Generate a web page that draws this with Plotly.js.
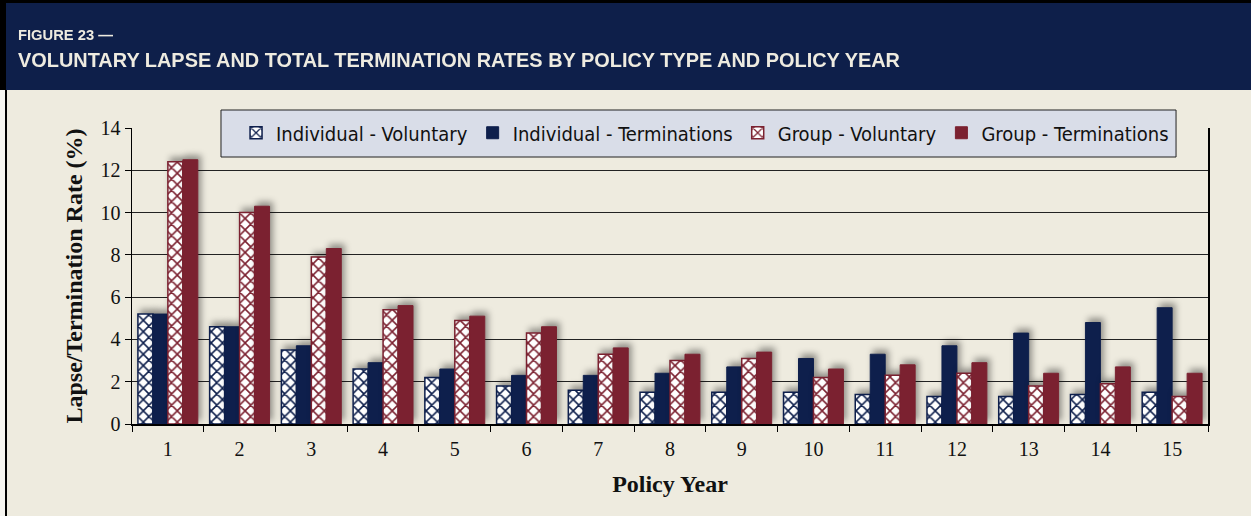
<!DOCTYPE html>
<html><head><meta charset="utf-8">
<script src="https://cdn.plot.ly/plotly-3.0.1.min.js"></script>
<style>
html,body{margin:0;padding:0;width:1251px;height:516px;overflow:hidden;background:#eeebdf;}
#wrap{position:relative;width:1251px;height:516px;}
#chart{position:absolute;left:0;top:0;width:1251px;height:516px;}
#header{position:absolute;left:0;top:0;width:1251px;height:90px;background:#0e1f4a;border-top:3px solid #000;border-left:6px solid #000;box-sizing:border-box;font-family:"Liberation Sans",Arial,sans-serif;font-weight:bold;color:#eeebe0;}
#header div{position:absolute;left:12px;white-space:nowrap;line-height:1;transform-origin:0 0;}
#l1{top:24px;font-size:15px;}
#l2{top:47px;font-size:20px;}
#lborder{position:absolute;left:5px;top:90px;width:2px;height:426px;background:#000;}
#lstrip{position:absolute;left:0;top:90px;width:5px;height:426px;background:#f6f5f0;}
.bars .point path{filter:drop-shadow(3px -4px 3px rgba(0,0,0,0.38));}
</style></head>
<body>
<div id="wrap">
<div id="chart"></div>
<div id="header"><div id="l1">FIGURE 23 —</div><div id="l2">VOLUNTARY LAPSE AND TOTAL TERMINATION RATES BY POLICY TYPE AND POLICY YEAR</div></div>
<div id="lstrip"></div><div id="lborder"></div>
</div>
<script>
const years = ['1','2','3','4','5','6','7','8','9','10','11','12','13','14','15'];
const indVol  = [5.2,4.6,3.5,2.6,2.2,1.8,1.6,1.5,1.5,1.5,1.4,1.3,1.3,1.4,1.5];
const indTerm = [5.2,4.6,3.7,2.9,2.6,2.3,2.3,2.4,2.7,3.1,3.3,3.7,4.3,4.8,5.5];
const grpVol  = [12.4,10.0,7.9,5.4,4.9,4.3,3.3,3.0,3.1,2.2,2.3,2.4,1.8,1.9,1.3];
const grpTerm = [12.5,10.3,8.3,5.6,5.1,4.6,3.6,3.3,3.4,2.6,2.8,2.9,2.4,2.7,2.4];
const seriesNames = ['Individual - Voluntary','Individual - Terminations','Group - Voluntary','Group - Terminations'];

// fit header lines to the reference's widths
[['l1',95],['l2',882]].forEach(([id,w])=>{
  const el=document.getElementById(id); const s=w/el.getBoundingClientRect().width;
  el.style.transform='scaleX('+s+')';
});

const NAVY = '#0e1f4c', MAROON = '#7b2130';
const serif = 'Liberation Serif, Times New Roman, serif';
const narrow = 'DejaVu Sans Condensed, Liberation Sans Narrow, Arial Narrow, sans-serif';

function patBar(name, y, col){
  return {type:'bar', name:name, x:years, y:y,
    marker:{color:'#ffffff', line:{color:col, width:1.5},
      pattern:{shape:'x', fgcolor:col, bgcolor:'#ffffff', size:8, solidity:0.35, fillmode:'replace'}}};
}
function solidBar(name, y, col){
  return {type:'bar', name:name, x:years, y:y, marker:{color:col, line:{color:col, width:1}}};
}
const data = [
  patBar(seriesNames[0], indVol, NAVY),
  solidBar(seriesNames[1], indTerm, NAVY),
  patBar(seriesNames[2], grpVol, MAROON),
  solidBar(seriesNames[3], grpTerm, MAROON)
];
const layout = {
  width:1251, height:516,
  paper_bgcolor:'#eeebdf', plot_bgcolor:'#eeebdf',
  margin:{l:132, r:43, t:128, b:92},
  barmode:'group', bargap:0.165, bargroupgap:0,
  showlegend:true,
  legend:{orientation:'h', x:0.0967, xanchor:'left', y:0.984, yanchor:'middle',
    bgcolor:'rgba(0,0,0,0)', borderwidth:0,
    font:{family:narrow, size:20, color:'#111'}, traceorder:'normal'},
  shapes:[{type:'rect', xref:'paper', yref:'paper', x0:0.0827, x1:0.9703, y0:0.902, y1:1.0608,
    fillcolor:'#d9dde8', line:{color:'#222', width:1}, layer:'above'}],
  xaxis:{type:'category', tickson:'boundaries', ticks:'outside', ticklen:6, tickcolor:'#000',
    showline:true, linecolor:'#000', linewidth:1.5, showgrid:false, ticklabelstandoff:6,
    tickfont:{family:serif, size:20, color:'#111'},
    title:{text:'<b>Policy Year</b>', font:{family:serif, size:24, color:'#111'}, standoff:16}},
  yaxis:{range:[0,14], dtick:2, ticks:'outside', ticklen:6, tickcolor:'#000',
    showline:true, linecolor:'#000', linewidth:1.5, mirror:true,
    showgrid:true, gridcolor:'#222', gridwidth:1, zeroline:false,
    tickfont:{family:serif, size:20, color:'#111'},
    title:{text:'<b>Lapse/Termination Rate (%)</b>', font:{family:serif, size:24, color:'#111'}, standoff:11}}
};
Plotly.newPlot('chart', data, layout, {displayModeBar:false, staticPlot:true});
</script>
</body></html>
